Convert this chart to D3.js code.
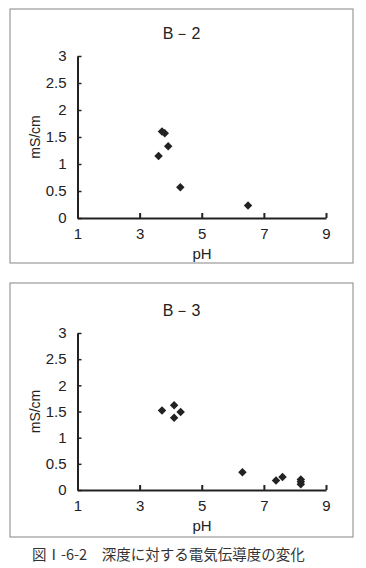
<!DOCTYPE html>
<html>
<head>
<meta charset="utf-8">
<script src="https://cdn.jsdelivr.net/npm/d3@7"></script>
<style>
  body { margin: 0; background: #fff; }
  svg text { font-family: Arial, "Liberation Sans", sans-serif; fill: #222; }
</style>
</head>
<body>
<div class="svg-container"></div>
<script>
// B-2 data (pH, mS/cm)
var b2_ph = [3.72, 3.81, 3.92, 3.61, 4.31, 6.49];
var b2_ec = [1.60, 1.57, 1.33, 1.15, 0.57, 0.23];

// B-3 data
var b3_ph = [3.72, 4.11, 4.11, 4.32, 6.31, 7.39, 7.60, 8.19, 8.19, 8.19];
var b3_ec = [1.52, 1.62, 1.38, 1.49, 0.34, 0.18, 0.25, 0.20, 0.16, 0.11];

var x_ticks = [1, 3, 5, 7, 9];
var y_ticks = [0, 0.5, 1, 1.5, 2, 2.5, 3];
var caption = "図Ⅰ-6-2　深度に対する電気伝導度の変化";

var svg = d3.select(".svg-container").append("svg")
  .attr("width", 366)
  .attr("height", 568);

// draw one panel
function draw_panel(top, title, phs, ecs, frameH, plotTop, plotBottom) {
  var g = svg.append("g").attr("transform", "translate(0," + top + ")");

  // outer frame
  g.append("rect")
    .attr("x", 10).attr("y", 0)
    .attr("width", 343).attr("height", frameH)
    .style("fill", "none")
    .style("stroke", "#999")
    .style("stroke-width", 1.2);

  var x = d3.scaleLinear().domain([1, 9]).range([77.5, 326]);
  var y = d3.scaleLinear().domain([0, 3]).range([plotBottom, plotTop]);

  // title
  g.append("text")
    .attr("x", 182).attr("y", plotTop - 17)
    .style("text-anchor", "middle")
    .style("font-size", "16px")
    .style("letter-spacing", "1px")
    .text(title);

  // x axis
  var xa = g.append("g")
    .attr("transform", "translate(0," + plotBottom + ")")
    .call(d3.axisBottom(x).tickValues(x_ticks).tickSizeInner(-5).tickSizeOuter(0).tickPadding(10));
  xa.select(".domain").style("stroke", "#222").style("stroke-width", 2);
  xa.selectAll(".tick line").style("stroke", "#222").style("stroke-width", 2);
  xa.selectAll(".tick text").style("font-size", "15px").style("fill", "#222");

  // y axis
  var ya = g.append("g")
    .attr("transform", "translate(" + x(1) + ",0)")
    .call(d3.axisLeft(y).tickValues(y_ticks).tickFormat(d3.format("~g"))
      .tickSizeInner(-4).tickSizeOuter(0).tickPadding(11));
  ya.select(".domain").style("stroke", "#222").style("stroke-width", 2);
  ya.selectAll(".tick line").style("stroke", "#222").style("stroke-width", 1.5);
  ya.selectAll(".tick text").style("font-size", "15px").style("fill", "#222");

  // axis labels
  g.append("text")
    .attr("x", 202).attr("y", plotBottom + 41)
    .style("text-anchor", "middle")
    .style("font-size", "15px")
    .text("pH");

  g.append("text")
    .attr("transform", "rotate(-90)")
    .attr("x", -(plotTop + plotBottom) / 2)
    .attr("y", 40)
    .style("text-anchor", "middle")
    .style("font-size", "14px")
    .text("mS/cm");

  // diamonds
  var pts = phs.map(function (p, i) { return {ph: p, ec: ecs[i]}; });
  g.selectAll(".pt")
    .data(pts)
    .enter().append("path")
    .attr("class", "pt")
    .attr("d", d3.symbol().type(d3.symbolSquare).size(36))
    .attr("transform", function (d) {
      return "translate(" + x(d.ph) + "," + y(d.ec) + ") rotate(45)";
    })
    .style("fill", "#222");
}

draw_panel(9, "B－2", b2_ph, b2_ec, 254, 47, 209);
draw_panel(283, "B－3", b3_ph, b3_ec, 254, 50, 207);

// caption
svg.append("text")
  .attr("x", 32).attr("y", 560)
  .style("font-family", "'Noto Sans CJK JP', sans-serif")
  .style("font-size", "14.5px")
  .style("fill", "#333")
  .text(caption);
</script>
</body>
</html>
